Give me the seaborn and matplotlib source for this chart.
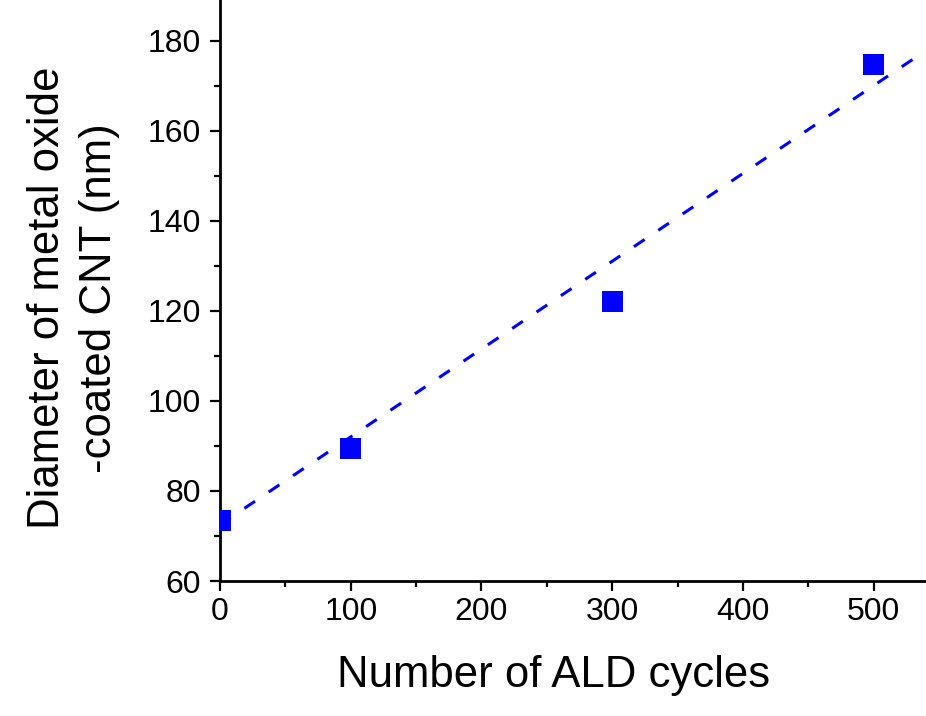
import numpy as np
import pandas as pd
import seaborn as sns
import matplotlib
matplotlib.use("Agg")
import matplotlib.pyplot as plt
from matplotlib.ticker import MultipleLocator

# measured points
cycles = [0, 100, 300, 500]
diameter = [73.5, 89.5, 122.0, 174.7]

# dashed fit line, end points
fit_cycles = [0, 540]
fit_diameter = [72.5, 177.8]

sns.set_theme(style="ticks")
plt.rcParams['font.family'] = ['Liberation Sans', 'DejaVu Sans']
plt.rcParams['text.color'] = 'black'
plt.rcParams['axes.labelcolor'] = 'black'

fig = plt.figure(figsize=(9.26, 7.16), dpi=100)
ax = fig.add_axes([0.2376, 0.1885, 0.7624, 0.8115])

points = pd.DataFrame({"cycles": cycles, "diameter": diameter})
fit = pd.DataFrame({"cycles": fit_cycles, "diameter": fit_diameter})

sns.lineplot(data=fit, x="cycles", y="diameter", ax=ax, color="#0000ff",
             linewidth=2.2, dashes=False)
ax.lines[0].set_dashes((4.2, 5.4))
sns.scatterplot(data=points, x="cycles", y="diameter", ax=ax, marker="s",
                s=235, color="#0000ff", edgecolor="none", linewidth=0, zorder=3)

ax.set_xlim(0, 540)
ax.set_ylim(60, 189)
ax.xaxis.set_major_locator(MultipleLocator(100))
ax.xaxis.set_minor_locator(MultipleLocator(50))
ax.yaxis.set_major_locator(MultipleLocator(20))
ax.yaxis.set_minor_locator(MultipleLocator(10))

for side in ["top", "right"]:
    ax.spines[side].set_visible(False)
for side in ["left", "bottom"]:
    ax.spines[side].set_linewidth(2.0)
    ax.spines[side].set_color("black")

ax.tick_params(which="major", direction="out", length=7.5, width=1.6,
               labelsize=23, colors="black")
ax.tick_params(axis="y", which="major", pad=6)
ax.tick_params(axis="x", which="major", pad=4)
ax.tick_params(which="minor", direction="out", length=4, width=1.6, colors="black")

ax.set_xlabel("Number of ALD cycles", fontsize=31.5)
ax.set_ylabel("Diameter of metal oxide\n-coated CNT (nm)", fontsize=31.5,
              linespacing=1.35)
ax.xaxis.set_label_coords(0.473, -0.127)
ax.yaxis.set_label_coords(-0.1416, 0.487)

fig.savefig("out.png", dpi=100)
